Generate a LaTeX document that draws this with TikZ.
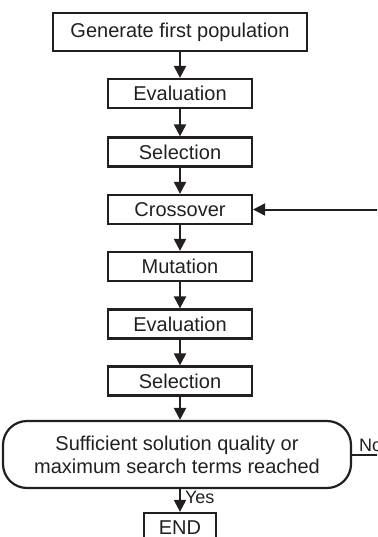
\documentclass[tikz,border=0pt]{standalone}
\usepackage{fontspec}
\setmainfont{Liberation Sans}
\usepackage{tikz}
\usepackage{xcolor}
\usetikzlibrary{arrows.meta}
\usetikzlibrary{positioning}
\definecolor{lineColor}{HTML}{231f20}

\begin{document}
\begin{tikzpicture}[
		x=0.5pt, y=-0.5pt,
		arrow/.style={-{Triangle[length=6pt, width=6pt]}, draw=lineColor, line width=1pt},
		stepbox/.style={rectangle, draw=lineColor, line width=1.1pt, minimum width=72pt, minimum height=14.5pt, inner sep=0pt, font=\fontsize{10}{11.5}\selectfont, text=lineColor},
		decision/.style={stepbox, rounded corners=12pt, minimum width=174pt, minimum height=33.5pt, align=center},
		label text/.style={font=\fontsize{9}{10}\selectfont, text=lineColor, inner sep=1pt},
	]
	\clip (0,0) rectangle (377,537);
	% Steps
	\node[stepbox, minimum width=127pt, minimum height=19pt] (generate) at (180,32) {Generate first population};
	\node[stepbox] (evaluation 1) at (180,93.5) {Evaluation};
	\node[stepbox] (selection 1) at (180,152) {Selection};
	\node[stepbox] (crossover) at (180,209.5) {Crossover};
	\node[stepbox] (mutation) at (180,266.5) {Mutation};
	\node[stepbox] (evaluation 2) at (180,324) {Evaluation};
	\node[stepbox] (selection 2) at (180,381) {Selection};
	% Stop test
	\node[decision] (stop test) at (177,454.5) {Sufficient solution quality or\\maximum search terms reached};
	\node[stepbox, minimum width=36pt] (end) at (180,527.5) {END};
	\coordinate[right=25pt of stop test.east] (loop corner);
	% Flow arrows
	\draw[arrow] (generate) -- (evaluation 1);
	\draw[arrow] (evaluation 1) -- (selection 1);
	\draw[arrow] (selection 1) -- (crossover);
	\draw[arrow] (crossover) -- (mutation);
	\draw[arrow] (mutation) -- (evaluation 2);
	\draw[arrow] (evaluation 2) -- (selection 2);
	\draw[arrow] (selection 2) -- (selection 2 |- stop test.north);
	\draw[arrow] (stop test.south -| end) -- node[label text, right, pos=0.35, xshift=1pt]{Yes} (end);
	% Loop back
	\draw[arrow] (stop test.east) -- node[label text, anchor=south west, pos=0, xshift=2pt]{No} (loop corner) |- (crossover.east);
\end{tikzpicture}
\end{document}
